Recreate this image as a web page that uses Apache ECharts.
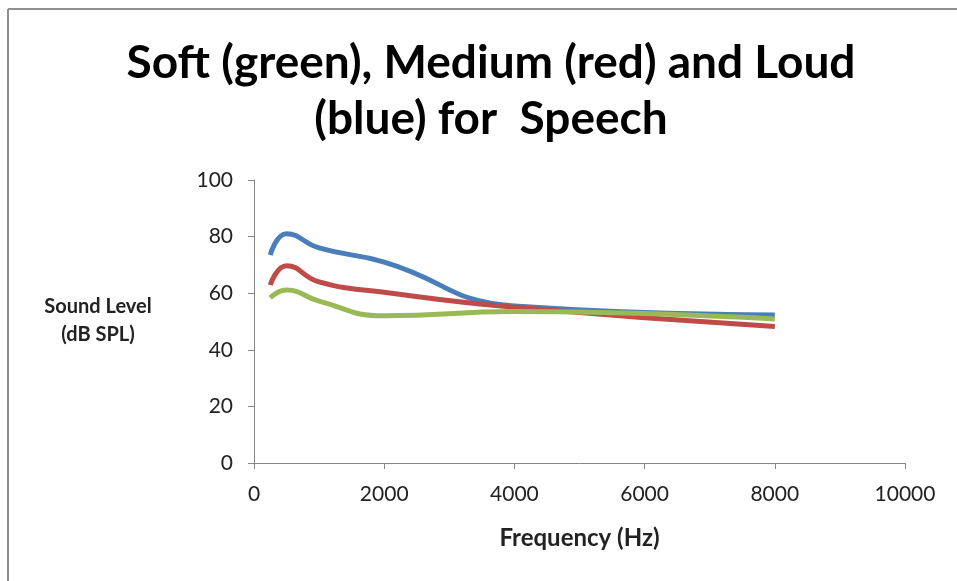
<!DOCTYPE html>
<html>
<head>
<meta charset="utf-8">
<script src="https://cdn.jsdelivr.net/npm/echarts@6/dist/echarts.min.js"></script>
<style>
html,body{margin:0;padding:0;background:#fff;}
#chart{width:957px;height:581px;}
</style>
</head>
<body>
<div id="chart"></div>
<script>
var frequencies = [250, 500, 1000, 2000, 4000, 8000];
var loud = [73.5, 81, 76, 71, 55.5, 52.3];
var medium = [62.9, 69.7, 64, 60.3, 55, 48.2];
var soft = [58.4, 61.1, 57.2, 52, 53.5, 50.9];
var titleText = 'Soft (green), Medium (red) and Loud\n(blue) for  Speech';
var xName = 'Frequency (Hz)';
var yName = 'Sound Level\n(dB SPL)';

function pairs(vals){ return frequencies.map(function(f,i){ return [f, vals[i]]; }); }

var chart = echarts.init(document.getElementById('chart'));
var font = 'Lato, "Open Sans", sans-serif';
chart.setOption({
  animation: false,
  backgroundColor: '#fff',
  graphic: [
    {type: 'line', shape: {x1: 8, y1: 9, x2: 957, y2: 9}, style: {stroke: '#8f8f8f', lineWidth: 2}},
    {type: 'line', shape: {x1: 8, y1: 9, x2: 8, y2: 581}, style: {stroke: '#8f8f8f', lineWidth: 2}},
    {type: 'text', x: 491, y: 35, style: {text: titleText, font: 'bold 46px ' + font, fill: '#000', textAlign: 'center', textVerticalAlign: 'top', lineHeight: 56}},
    {type: 'text', x: 98, y: 321, style: {text: yName, font: 'bold 20px ' + font, fill: '#222', textAlign: 'center', textVerticalAlign: 'middle', lineHeight: 28}}
  ],
  grid: {left: 254, right: 52, top: 180, bottom: 118},
  xAxis: {
    type: 'value', min: 0, max: 10000, interval: 2000,
    name: xName, nameLocation: 'middle', nameGap: 63,
    nameTextStyle: {fontFamily: font, fontWeight: 'bold', fontSize: 24, color: '#222'},
    axisLine: {lineStyle: {color: '#868686', width: 1}},
    axisTick: {show: true, length: 6, lineStyle: {color: '#868686'}},
    axisLabel: {fontFamily: font, fontSize: 21, color: '#222', margin: 21, formatter: function(v){ return String(v); }},
    splitLine: {show: false}
  },
  yAxis: {
    type: 'value', min: 0, max: 100, interval: 20,
    axisLine: {show: true, lineStyle: {color: '#868686', width: 1}},
    axisTick: {show: true, length: 6, lineStyle: {color: '#868686'}},
    axisLabel: {fontFamily: font, fontSize: 21, color: '#222', margin: 21},
    splitLine: {show: false}
  },
  series: [
    {name: 'Loud', type: 'line', data: pairs(loud), smooth: 0.5, showSymbol: false, lineStyle: {color: '#4a7ebb', width: 5}, itemStyle: {color: '#4a7ebb'}},
    {name: 'Medium', type: 'line', data: pairs(medium), smooth: 0.5, showSymbol: false, lineStyle: {color: '#be4b48', width: 5}, itemStyle: {color: '#be4b48'}},
    {name: 'Soft', type: 'line', data: pairs(soft), smooth: 0.5, showSymbol: false, lineStyle: {color: '#98b954', width: 5}, itemStyle: {color: '#98b954'}}
  ]
});
</script>
</body>
</html>
